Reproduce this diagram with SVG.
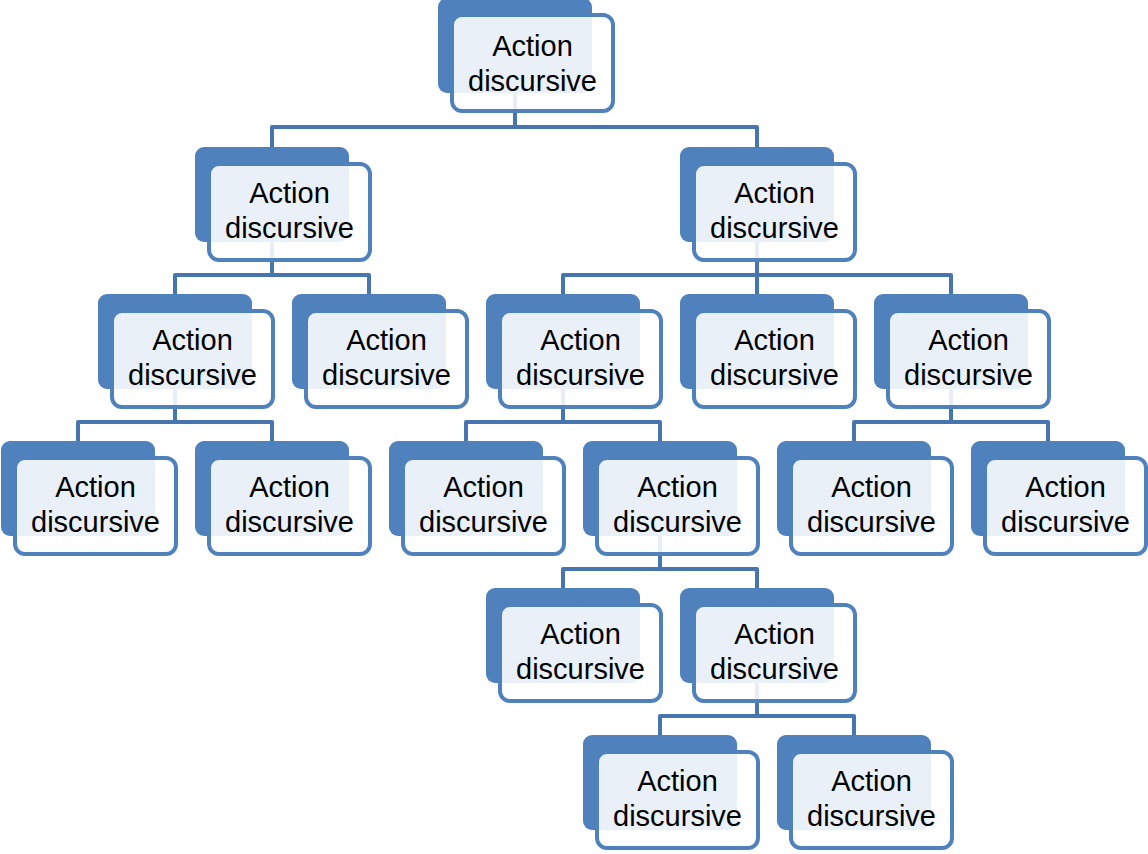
<svg xmlns="http://www.w3.org/2000/svg" width="1148" height="854" viewBox="0 0 1148 854">
<style>
.bg{fill:#ffffff}
.back{fill:#4F81BD}
.front{fill:#ffffff;fill-opacity:0.88;stroke:#4F81BD;stroke-width:4}
.lbl{font-family:"Liberation Sans",Arial,sans-serif;font-size:29px;fill:#000000;text-anchor:middle}
.conn{fill:none;stroke:#4675B0;stroke-width:4;stroke-linejoin:round}
</style>
<rect class="bg" x="0" y="0" width="1148" height="854"/>
<g id="connectors">
<path class="conn" d="M515 46V127M272 147V127H757V147"/>
<path class="conn" d="M272 195V275M175 294V275H369V294"/>
<path class="conn" d="M757 195V275M563 294V275H951V294M757 275V294"/>
<path class="conn" d="M175 342V422M78 441V422H272V441"/>
<path class="conn" d="M563 342V422M466 441V422H660V441"/>
<path class="conn" d="M951 342V422M854 441V422H1048V441"/>
<path class="conn" d="M660 489V569M563 588V569H757V588"/>
<path class="conn" d="M757 636V716M660 735V716H854V735"/>
</g>
<defs>
<g id="box">
<rect class="back" x="0" y="0" width="154" height="95" rx="9"/>
<rect class="front" x="14" y="17" width="161" height="96" rx="10"/>
</g>
</defs>
<g id="n0" transform="translate(438,-2)"><use href="#box"/><text class="lbl" x="94.5" y="58">Action</text><text class="lbl" x="94.5" y="93">discursive</text></g>
<g id="n1" transform="translate(195,147)"><use href="#box"/><text class="lbl" x="94.5" y="56">Action</text><text class="lbl" x="94.5" y="91">discursive</text></g>
<g id="n2" transform="translate(680,147)"><use href="#box"/><text class="lbl" x="94.5" y="56">Action</text><text class="lbl" x="94.5" y="91">discursive</text></g>
<g id="n3" transform="translate(98,294)"><use href="#box"/><text class="lbl" x="94.5" y="56">Action</text><text class="lbl" x="94.5" y="91">discursive</text></g>
<g id="n4" transform="translate(292,294)"><use href="#box"/><text class="lbl" x="94.5" y="56">Action</text><text class="lbl" x="94.5" y="91">discursive</text></g>
<g id="n5" transform="translate(486,294)"><use href="#box"/><text class="lbl" x="94.5" y="56">Action</text><text class="lbl" x="94.5" y="91">discursive</text></g>
<g id="n6" transform="translate(680,294)"><use href="#box"/><text class="lbl" x="94.5" y="56">Action</text><text class="lbl" x="94.5" y="91">discursive</text></g>
<g id="n7" transform="translate(874,294)"><use href="#box"/><text class="lbl" x="94.5" y="56">Action</text><text class="lbl" x="94.5" y="91">discursive</text></g>
<g id="n8" transform="translate(1,441)"><use href="#box"/><text class="lbl" x="94.5" y="56">Action</text><text class="lbl" x="94.5" y="91">discursive</text></g>
<g id="n9" transform="translate(195,441)"><use href="#box"/><text class="lbl" x="94.5" y="56">Action</text><text class="lbl" x="94.5" y="91">discursive</text></g>
<g id="n10" transform="translate(389,441)"><use href="#box"/><text class="lbl" x="94.5" y="56">Action</text><text class="lbl" x="94.5" y="91">discursive</text></g>
<g id="n11" transform="translate(583,441)"><use href="#box"/><text class="lbl" x="94.5" y="56">Action</text><text class="lbl" x="94.5" y="91">discursive</text></g>
<g id="n12" transform="translate(777,441)"><use href="#box"/><text class="lbl" x="94.5" y="56">Action</text><text class="lbl" x="94.5" y="91">discursive</text></g>
<g id="n13" transform="translate(971,441)"><use href="#box"/><text class="lbl" x="94.5" y="56">Action</text><text class="lbl" x="94.5" y="91">discursive</text></g>
<g id="n14" transform="translate(486,588)"><use href="#box"/><text class="lbl" x="94.5" y="56">Action</text><text class="lbl" x="94.5" y="91">discursive</text></g>
<g id="n15" transform="translate(680,588)"><use href="#box"/><text class="lbl" x="94.5" y="56">Action</text><text class="lbl" x="94.5" y="91">discursive</text></g>
<g id="n16" transform="translate(583,735)"><use href="#box"/><text class="lbl" x="94.5" y="56">Action</text><text class="lbl" x="94.5" y="91">discursive</text></g>
<g id="n17" transform="translate(777,735)"><use href="#box"/><text class="lbl" x="94.5" y="56">Action</text><text class="lbl" x="94.5" y="91">discursive</text></g>
</svg>
